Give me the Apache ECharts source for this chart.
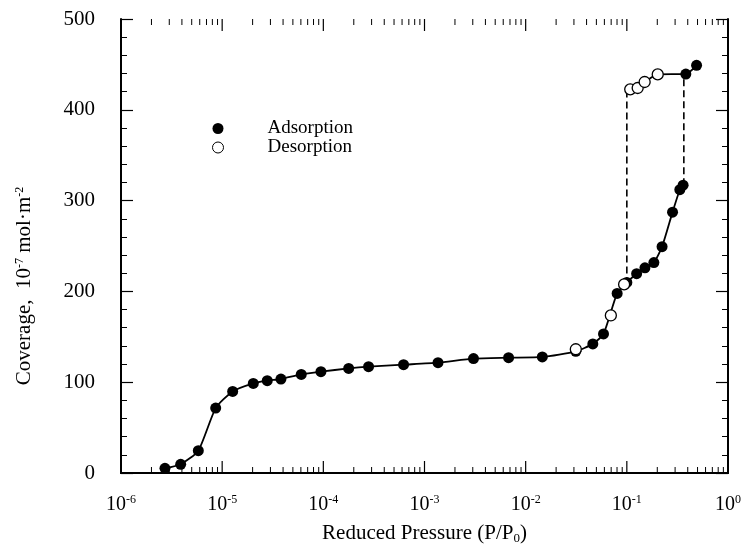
<!DOCTYPE html>
<html>
<head>
<meta charset="utf-8">
<script src="https://cdn.jsdelivr.net/npm/echarts@6/dist/echarts.min.js"></script>
<style>
  html, body { margin: 0; padding: 0; background: #fff; }
  #chart { width: 748px; height: 557px; }
</style>
</head>
<body>
<div id="chart"></div>
<script>
// adsorption branch, lower part (filled circles, solid line)
const adsLowP = [2.72e-6, 3.89e-6, 5.81e-6, 8.63e-6, 1.27e-5, 2.03e-5, 2.79e-5, 3.81e-5, 6.05e-5, 9.47e-5,
  1.78e-4, 2.8e-4, 6.21e-4, 1.36e-3, 3.05e-3, 6.78e-3, 1.46e-2, 3.13e-2, 4.61e-2, 5.88e-2,
  8.02e-2, 0.100, 0.125, 0.151, 0.185, 0.223, 0.283, 0.334, 0.360];
const adsLowC = [5.2, 9.6, 24.6, 71.5, 89.8, 98.7, 101.7, 103.5, 108.6, 111.6,
  115.2, 117.1, 119.3, 121.5, 126, 127, 127.8, 134, 142.2, 153.2,
  197.8, 209.9, 219.5, 226, 231.7, 249.3, 287.3, 312, 317];
// adsorption branch, upper part
const adsUpP = [0.383, 0.489];
const adsUpC = [439.4, 449];
// desorption (open circles)
const desUpP = [0.108, 0.128, 0.150, 0.202];
const desUpC = [422.5, 424, 430.6, 439];
const desLowP = [3.13e-2, 6.95e-2, 9.4e-2];
const desLowC = [136.3, 173.5, 207.7];
// hysteresis jumps (dashed)
const jumpDesP = [0.1, 0.1];
const jumpDesC = [207.7, 422.5];
const jumpAdsP = [0.366, 0.366];
const jumpAdsC = [317, 439.4];

const yTicks = [0, 100, 200, 300, 400, 500];
const decades = [-6, -5, -4, -3, -2, -1, 0];

const zip = (a, b) => a.map((v, i) => [v, b[i]]);

// log axis ticks: [value, tick length] -> decades long, 2..9 short
const logTicks = [];
decades.forEach(d => {
  logTicks.push([Math.pow(10, d), 12]);
  if (d < 0) for (let k = 2; k <= 9; k++) logTicks.push([k * Math.pow(10, d), 6]);
});

const font = 'Liberation Serif';
const chart = echarts.init(document.getElementById('chart'));

const xCommon = {
  type: 'log',
  logBase: 10,
  min: Math.pow(10, decades[0]),
  max: Math.pow(10, decades[decades.length - 1]),
  splitNumber: 6,
  splitLine: { show: false },
  axisLine: { show: true, lineStyle: { color: '#000', width: 2 } },
  axisTick: { show: false }
};
const yCommon = {
  type: 'value',
  min: yTicks[0],
  max: yTicks[yTicks.length - 1],
  interval: 100,
  splitLine: { show: false },
  axisLine: { show: true, lineStyle: { color: '#000', width: 2 } },
  axisTick: { show: true, inside: true, length: 12, lineStyle: { color: '#000', width: 1.2 } },
  minorTick: { show: true, splitNumber: 5, length: 6, lineStyle: { color: '#000', width: 1 } }
};

const option = {
  backgroundColor: '#fff',
  animation: false,
  grid: { left: 121, right: 20, top: 19, bottom: 84 },
  legend: {
    orient: 'vertical',
    left: 207,
    top: 114,
    itemGap: 0,
    itemWidth: 11,
    itemHeight: 11,
    textStyle: { fontFamily: font, fontSize: 19, lineHeight: 15, color: '#000', padding: [0, 0, 0, 39] },
    data: [
      { name: 'Adsorption', icon: 'circle', itemStyle: { color: '#000' } },
      { name: 'Desorption', icon: 'circle', itemStyle: { color: '#fff', borderColor: '#000', borderWidth: 1 } }
    ]
  },
  xAxis: [
    Object.assign({}, xCommon, {
      position: 'bottom',
      name: 'Reduced Pressure (P/P{sub|0})',
      nameLocation: 'middle',
      nameGap: 49,
      nameTextStyle: {
        fontFamily: font, fontSize: 21, color: '#000',
        rich: { sub: { fontFamily: font, fontSize: 13, verticalAlign: 'bottom', padding: [10, 0, 0, 0] } }
      },
      axisLabel: {
        margin: 21,
        formatter: v => '{b|10}{s|' + Math.round(Math.log10(v)) + '}',
        rich: {
          b: { fontFamily: font, fontSize: 20, color: '#000', lineHeight: 22 },
          s: { fontFamily: font, fontSize: 12, color: '#000', verticalAlign: 'top' }
        }
      }
    }),
    Object.assign({}, xCommon, { position: 'top', axisLabel: { show: false } })
  ],
  yAxis: [
    Object.assign({}, yCommon, {
      position: 'left',
      name: 'Coverage,  10{s|-7} mol·m{s|-2}',
      nameLocation: 'middle',
      nameGap: 86,
      nameRotate: 90,
      nameTextStyle: {
        fontFamily: font, fontSize: 21, color: '#000', padding: [0, 80, 0, 0],
        rich: { s: { fontFamily: font, fontSize: 12, verticalAlign: 'top' } }
      },
      axisLabel: { margin: 26, fontFamily: font, fontSize: 21, color: '#000' }
    }),
    Object.assign({}, yCommon, { position: 'right', axisLabel: { show: false } })
  ],
  series: [
    {
      type: 'custom',
      silent: true,
      clip: false,
      data: logTicks,
      renderItem: (params, api) => {
        const len = api.value(1);
        const b = api.coord([api.value(0), yTicks[0]]);
        const t = api.coord([api.value(0), yTicks[yTicks.length - 1]]);
        const w = len > 8 ? 1.2 : 1;
        return {
          type: 'group',
          children: [
            { type: 'line', shape: { x1: b[0], y1: b[1], x2: b[0], y2: b[1] - len }, style: { stroke: '#000', lineWidth: w } },
            { type: 'line', shape: { x1: t[0], y1: t[1], x2: t[0], y2: t[1] + len }, style: { stroke: '#000', lineWidth: w } }
          ]
        };
      }
    },
    {
      name: 'jumpDes', type: 'line', data: zip(jumpDesP, jumpDesC), showSymbol: false, silent: true,
      lineStyle: { color: '#000', width: 1.6, type: [7, 4] }
    },
    {
      name: 'jumpAds', type: 'line', data: zip(jumpAdsP, jumpAdsC), showSymbol: false, silent: true,
      lineStyle: { color: '#000', width: 1.6, type: [7, 4] }
    },
    {
      name: 'upper', type: 'line', data: zip(desUpP.concat(adsUpP), desUpC.concat(adsUpC)),
      showSymbol: false, silent: true, smooth: 0.2,
      lineStyle: { color: '#000', width: 1.8 }
    },
    {
      name: 'Adsorption', type: 'line', data: zip(adsLowP, adsLowC), smooth: 0.2,
      symbol: 'circle', symbolSize: 11,
      itemStyle: { color: '#000', opacity: 1 },
      lineStyle: { color: '#000', width: 1.8 }
    },
    {
      name: 'Adsorption', type: 'scatter', data: zip(adsUpP, adsUpC),
      symbol: 'circle', symbolSize: 11, itemStyle: { color: '#000', opacity: 1 }
    },
    {
      name: 'Desorption', type: 'scatter', data: zip(desUpP.concat(desLowP), desUpC.concat(desLowC)),
      symbol: 'circle', symbolSize: 11, z: 5,
      itemStyle: { color: '#fff', borderColor: '#000', borderWidth: 1.3, opacity: 1 }
    }
  ]
};

chart.setOption(option);
</script>
</body>
</html>
